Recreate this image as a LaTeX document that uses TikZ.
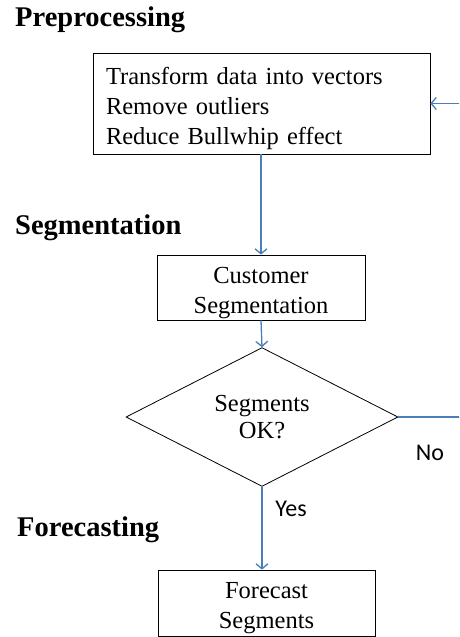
\documentclass[tikz,border=0pt]{standalone}
\usepackage{fontspec}
\setmainfont{Liberation Serif}
\newfontfamily\calib{Carlito}
\usetikzlibrary{shapes.geometric,arrows.meta}
\definecolor{flowblue}{RGB}{74,126,187}
\begin{document}
\begin{tikzpicture}[x=1pt,y=-1pt]
		\tikzstyle{etape} = [draw,thick,rectangle,inner sep=0pt,font=\fontsize{24.5}{30}\selectfont,align=center];
		\tikzstyle{boite} = [etape,text width=200pt,execute at begin node={\rule{0pt}{27pt}}];
		\tikzstyle{titre} = [anchor=west,inner sep=0pt,font=\fontsize{28.5}{32}\selectfont\bfseries];
		\tikzstyle{lien} = [flowblue,line width=1.3pt,-{Straight Barb[length=5pt,width=12pt]}];
		\tikzstyle{reponse} = [inner sep=0pt,font=\calib\fontsize{24}{28}\selectfont];
		
		\useasboundingbox (0,0) rectangle (459,637);
		\clip (0,0) rectangle (459,637);
		
		% les titres
		\node[titre] (tpre) at (15,20) {Preprocessing};
		\node[titre] (tseg) at (15,228) {Segmentation};
		\node[titre] (tfor) at (17,530) {Forecasting};
		
		% les boites
		\node[boite,minimum width=337pt,minimum height=101pt,align=left,text width=311pt] (pre) at (261.5,103.5) {Transform data into vectors\\Remove outliers\\Reduce Bullwhip effect};
		\node[boite,minimum width=208pt,minimum height=65pt] (seg) at (261,287.5) {Customer\\Segmentation};
		\node[etape,diamond,minimum width=272pt,minimum height=108pt] (chk) at (262,417) {Segments\\[-3pt]OK?};
		\node[boite,minimum width=217pt,minimum height=66pt] (fcs) at (266.5,603) {Forecast\\Segments};
		
		% les fleches
		\draw[lien] (pre.south -| seg.north) -- (seg.north);
		\draw[lien] (seg.south) -- (chk.north);
		\draw[lien] (chk.south) -- (chk.south |- fcs.north);
		\draw[lien] (chk.east) -- (490,417) |- (pre.east);
		
		\node[reponse] (oui) at (291,509) {Yes};
		\node[reponse] (non) at (430,453) {No};
		
	\end{tikzpicture}
\end{document}
